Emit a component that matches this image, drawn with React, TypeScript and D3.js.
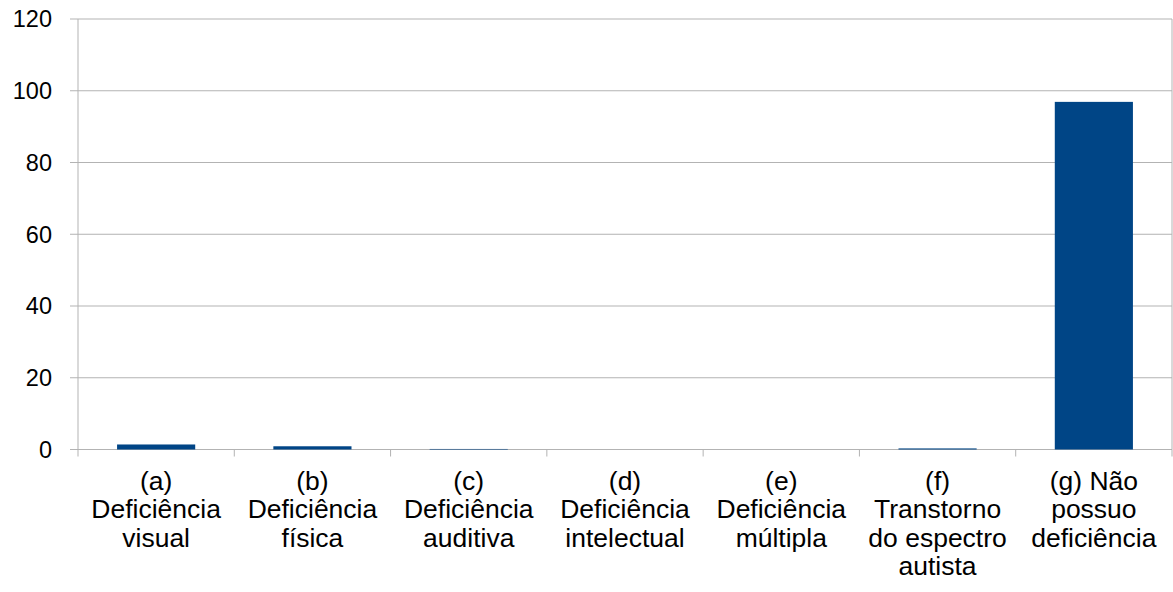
import React from "react";
import * as d3 from "d3";

const categories: string[][] = [
  ["(a)", "Deficiência", "visual"],
  ["(b)", "Deficiência", "física"],
  ["(c)", "Deficiência", "auditiva"],
  ["(d)", "Deficiência", "intelectual"],
  ["(e)", "Deficiência", "múltipla"],
  ["(f)", "Transtorno", "do espectro", "autista"],
  ["(g) Não", "possuo", "deficiência"],
];
const values: number[] = [1.4, 0.9, 0.15, 0, 0, 0.3, 96.9];
const yTicks: number[] = [0, 20, 40, 60, 80, 100, 120];

const W = 1173;
const H = 592;
const margin = { left: 78, right: 1, top: 19, bottom: 142.5 };

export default function App() {
  const x = d3
    .scaleBand<number>()
    .domain(values.map((_, i) => i))
    .range([margin.left, W - margin.right])
    .paddingInner(0.5)
    .paddingOuter(0.25);
  const y = d3
    .scaleLinear()
    .domain([0, 120])
    .range([H - margin.bottom, margin.top]);
  const step = x.step();
  const x0 = margin.left;
  const x1 = W - margin.right;
  const y0 = y(0);
  const grid = "#b3b3b3";
  const font = "'Liberation Sans', Arial, sans-serif";

  return (
    <svg
      width={W}
      height={H}
      style={{ position: "absolute", left: 0, top: 0, background: "#fff" }}
    >
      {yTicks.map((t) => (
        <g key={t}>
          <line x1={x0 - 8} x2={x1} y1={y(t)} y2={y(t)} stroke={grid} strokeWidth={1} />
          <text
            x={52}
            y={y(t)}
            dy="0.36em"
            textAnchor="end"
            fontFamily={font}
            fontSize={23.5}
            fill="#000"
          >
            {t}
          </text>
        </g>
      ))}
      <line x1={x0} x2={x0} y1={margin.top} y2={y0} stroke={grid} strokeWidth={1} />
      <line x1={x1} x2={x1} y1={margin.top} y2={y0} stroke={grid} strokeWidth={1} />
      {d3.range(values.length + 1).map((i) => (
        <line
          key={i}
          x1={x0 + i * step}
          x2={x0 + i * step}
          y1={y0}
          y2={y0 + 7}
          stroke={grid}
          strokeWidth={1}
        />
      ))}
      {values.map((v, i) => (
        <rect
          key={i}
          x={x(i)!}
          width={x.bandwidth()}
          y={y(v)}
          height={y0 - y(v)}
          fill="#004586"
        />
      ))}
      {categories.map((lines, i) => (
        <g key={i} transform={`translate(${x(i)! + x.bandwidth() / 2},0) scale(1.06,1)`}>
          <text
            x={0}
            y={490}
            textAnchor="middle"
            fontFamily={font}
            fontSize={25}
            fill="#000"
          >
            {lines.map((l, j) => (
              <tspan key={j} x={0} dy={j === 0 ? 0 : 28.5}>
                {l}
              </tspan>
            ))}
          </text>
        </g>
      ))}
    </svg>
  );
}
